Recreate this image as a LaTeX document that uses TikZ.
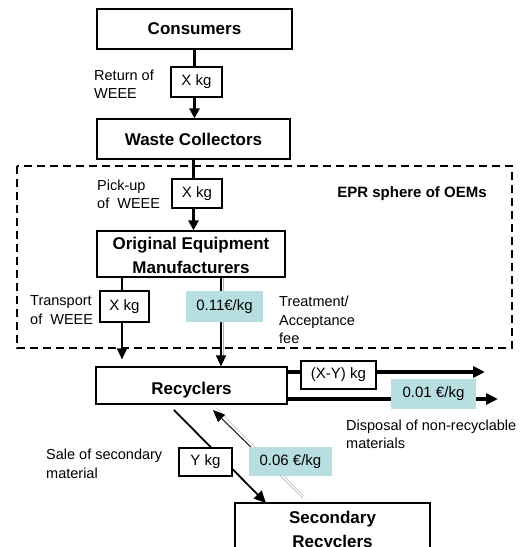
\documentclass[tikz,border=0pt]{standalone}
\usepackage{fontspec}
\setmainfont{Liberation Sans}
\usetikzlibrary{arrows.meta}
\definecolor{tealbox}{RGB}{183,222,224}
\begin{document}
\begin{tikzpicture}[x=1pt,y=-1pt,
 box/.style={draw, line width=1.2pt, fill=white, font=\fontsize{17}{24}\selectfont\bfseries, align=center, inner sep=0pt},
 qbox/.style={draw, line width=1.2pt, fill=white, font=\fontsize{15}{17}\selectfont, inner sep=0pt},
 feebox/.style={fill=tealbox, font=\fontsize{15}{17}\selectfont, inner sep=0pt},
 lbl/.style={font=\fontsize{14.5}{18.5}\selectfont, align=left, anchor=west, inner sep=0pt},
 flow/.style={line width=2.6pt, -{Triangle[length=10pt,width=10pt]}},
 thinflow/.style={line width=1.4pt, -{Triangle[length=11pt,width=10pt]}},
 outflow/.style={line width=3.4pt, -{Triangle[length=12pt,width=11pt]}},
 diagflow/.style={line width=1.8pt, -{Triangle[length=12pt,width=11pt]}},
]
\useasboundingbox (0,0) rectangle (531,547);
\clip (0,0) rectangle (531,547);

% EPR sphere frame
\draw[line width=1.3pt, dash pattern=on 8pt off 5pt] (17,166) rectangle (512,348);
\node[font=\fontsize{15}{18}\selectfont\bfseries, inner sep=0pt] (epr) at (412,194) {EPR sphere of OEMs};

% main boxes
\node[box, minimum width=195pt, minimum height=40pt] (cons) at (194.5,29) {Consumers};
\node[box, minimum width=193pt, minimum height=40pt] (wc) at (193.5,139) {Waste Collectors};
\node[box, minimum width=188pt, minimum height=46pt] (oem) at (191,254) {\rule{0pt}{15pt}Original Equipment\\Manufacturers};
\node[box, minimum width=191pt, minimum height=37pt, text height=22pt, text depth=3.6pt] (rec) at (191.5,385.5) {Recyclers};
\node[box, minimum width=195pt, minimum height=56pt] (sec) at (332.5,531) {Secondary\\Recyclers};

% helper coordinates
\coordinate (tx) at (122,0);
\coordinate (fx) at (221,0);
\coordinate (fx2) at (223.2,0);
\coordinate (xyend) at (485,372);
\coordinate (dend) at (498,399);
\coordinate (d1) at (174,410);
\coordinate (d2) at (266,503);
\coordinate (e1) at (303,498);
\coordinate (e3) at (250.8,447);
\coordinate (e2) at (213,410);
\coordinate (e1b) at (304.4,496.6);
\coordinate (e2b) at (216,407.5);

% connectors
\draw[flow] (cons.south) -- (cons.south |- wc.north);
\draw[flow] (wc.south) -- (wc.south |- oem.north);
\draw[thinflow, shorten >=7pt] (oem.south -| tx) -- (rec.north -| tx);
\draw[line width=0.6pt, gray!60] (oem.south -| fx2) -- ([yshift=6pt]rec.north -| fx2);
\draw[thinflow, line width=1.1pt] (oem.south -| fx) -- (rec.north -| fx);
\draw[outflow] (rec.east |- xyend) -- (xyend);
\draw[outflow] (rec.east |- dend) -- (dend);
\draw[diagflow] (d1) -- (d2);
\draw[line width=0.6pt, gray!45] (e1b) -- (e2b);
\draw[line width=0.7pt, gray!55] (e1) -- (e3);
\draw[line width=0.9pt, -{Triangle[length=12pt,width=10pt]}] (e3) -- (e2);

% quantity / fee boxes
\node[qbox, minimum width=51pt, minimum height=30pt] (q1) at (196.5,82) {X kg};
\node[qbox, minimum width=50pt, minimum height=29pt] (q2) at (197,193.5) {X kg};
\node[qbox, minimum width=49pt, minimum height=31pt] (q3) at (124.5,306.5) {X kg};
\node[feebox, minimum width=77pt, minimum height=31pt] (f1) at (224.5,306.5) {0.11€/kg};
\node[qbox, minimum width=75pt, minimum height=28pt] (q4) at (338.5,375) {(X-Y) kg};
\node[feebox, minimum width=85pt, minimum height=30pt] (f2) at (433.5,394) {0.01 €/kg};
\node[qbox, minimum width=53pt, minimum height=28pt] (q5) at (205.5,462) {Y kg};
\node[feebox, minimum width=83pt, minimum height=29pt] (f3) at (290.5,461.5) {0.06 €/kg};

% labels
\node[lbl] (l1) at (94,84) {Return of\\WEEE};
\node[lbl] (l2) at (97,194.5) {Pick-up\\of\ \ WEEE};
\node[lbl] (l3) at (30,310) {Transport\\of\ \ WEEE};
\node[lbl] (l4) at (279,320) {Treatment/\\Acceptance\\fee};
\node[lbl] (l5) at (46,464) {Sale of secondary\\material};
\node[lbl] (l6) at (346,434.5) {Disposal of non-recyclable\\materials};
\end{tikzpicture}
\end{document}
